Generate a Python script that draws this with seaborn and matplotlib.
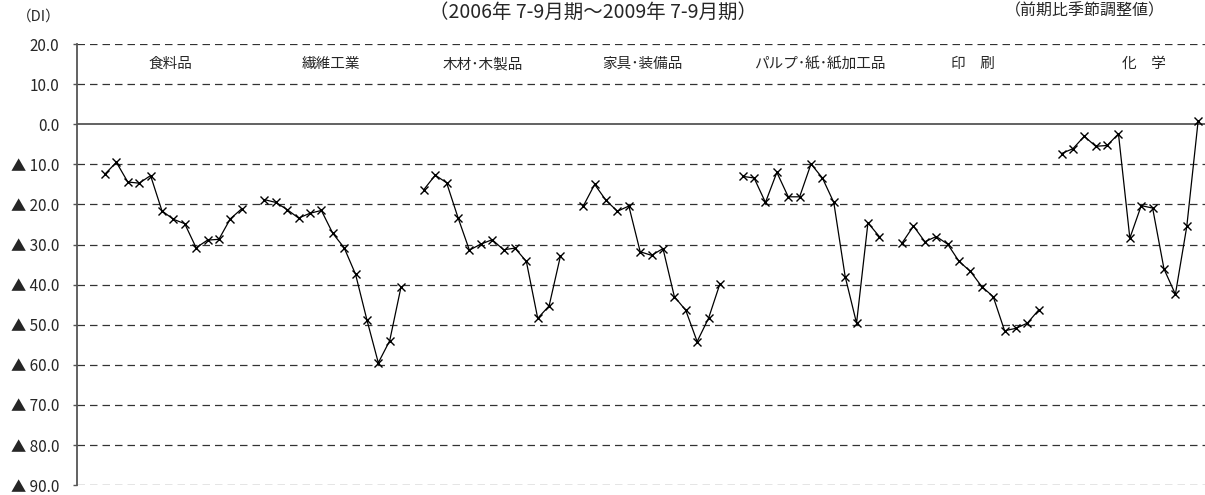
import numpy as np
import pandas as pd
import seaborn as sns
import matplotlib.pyplot as plt

industries = ['食料品', '繊維工業', '木材･木製品', '家具･装備品',
              'パルプ･紙･紙加工品', '印　刷', '化　学']

food = [-12.4, -9.5, -14.4, -14.7, -12.8, -21.6, -23.7, -24.8, -30.8, -28.9, -28.7, -23.6, -21.1]
textile = [-18.8, -19.5, -21.3, -23.4, -22.2, -21.5, -27.2, -30.8, -37.4, -48.8, -59.5, -54.0, -40.5]
wood = [-16.3, -12.7, -14.6, -23.3, -31.4, -29.9, -28.8, -31.3, -30.9, -34.2, -48.4, -45.3, -32.8]
furniture = [-20.4, -15.0, -19.0, -21.7, -20.4, -31.8, -32.7, -31.0, -43.0, -46.4, -54.2, -48.4, -39.8]
pulp = [-13.0, -13.4, -19.5, -12.0, -18.1, -18.1, -9.9, -13.4, -19.5, -38.0, -49.6, -24.6, -28.0]
printing = [-29.6, -25.4, -29.3, -28.0, -29.9, -34.2, -36.7, -40.5, -43.0, -51.5, -50.9, -49.6, -46.3]
chemical = [-7.3, -6.1, -3.0, -5.5, -5.3, -2.4, -28.4, -20.3, -20.9, -36.1, -42.4, -25.5, 0.9]

series = [food, textile, wood, furniture, pulp, printing, chemical]
label_x = [5.7, 19.8, 33.2, 47.2, 62.8, 76.2, 91.2]

yticks = [20, 10, 0, -10, -20, -30, -40, -50, -60, -70, -80, -90]
ytick_labels = ['20.0', '10.0', '0.0', '▲ 10.0', '▲ 20.0', '▲ 30.0', '▲ 40.0',
                '▲ 50.0', '▲ 60.0', '▲ 70.0', '▲ 80.0', '▲ 90.0']

rows = []
for g, (name, vals) in enumerate(zip(industries, series)):
    for j, v in enumerate(vals):
        rows.append({'x': g * 14 + j, 'value': v, 'group': name})
df = pd.DataFrame(rows)

sns.set_style('white')
plt.rcParams['font.family'] = ['Noto Sans CJK JP', 'DejaVu Sans']

fig = plt.figure(figsize=(12.05, 4.95), dpi=100)
ax = fig.add_axes([0.064, 0.02, 0.936, 0.891])

for y in yticks:
    if y == 0:
        ax.axhline(y, color='#555555', lw=1.3, zorder=1)
    else:
        ax.axhline(y, color='#333333', lw=0.9, ls=(0, (6, 4)), zorder=1)

sns.lineplot(data=df, x='x', y='value', units='group', estimator=None,
             color='black', lw=0.9, marker='x', markersize=6,
             markeredgewidth=1.0, markeredgecolor='black', ax=ax, zorder=3)

for name, lx in zip(industries, label_x):
    ax.text(lx, 15, name, ha='center', va='center', fontsize=10.5)

ax.set_xlim(-2.45, 96.6)
ax.set_ylim(-90, 20)
ax.set_xticks([])
ax.set_yticks(yticks)
ax.set_yticklabels(ytick_labels, fontsize=11)
ax.tick_params(axis='y', length=3, width=1, color='#555555', pad=10, left=True)
ax.set_xlabel('')
ax.set_ylabel('')
for s in ['top', 'right', 'bottom']:
    ax.spines[s].set_visible(False)
ax.spines['left'].set_color('#555555')
ax.spines['left'].set_linewidth(1.3)

fig.text(0.032, 0.966, '（DI）', ha='center', va='center', fontsize=10.5)
fig.text(0.492, 0.976, '（2006年 7-9月期～2009年 7-9月期）', ha='center', va='center', fontsize=14)
fig.text(0.9, 0.978, '（前期比季節調整値）', ha='center', va='center', fontsize=11.5)

fig.savefig('out.png', dpi=100)
